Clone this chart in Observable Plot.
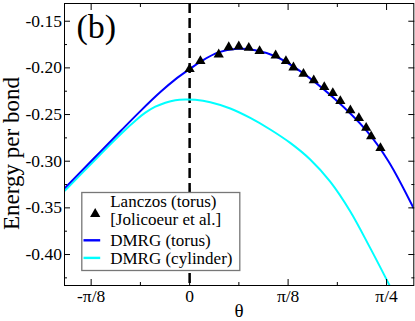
<!DOCTYPE html>
<html><head><meta charset="utf-8">
<script src="https://cdn.jsdelivr.net/npm/d3@7"></script>
<script src="https://cdn.jsdelivr.net/npm/@observablehq/plot@0.6"></script>
<style>
body{margin:0;background:#fff}
#chart{width:415px;height:321px}
#chart svg, #chart svg text{font-family:"Liberation Serif","Times New Roman",serif !important}
</style>
</head><body><div id="chart"></div>
<script>
const PI = Math.PI;
// Lanczos (torus) [Jolicoeur et al.]
const lanczosTheta  = [0, 0.043, 0.116, 0.156, 0.196, 0.236, 0.279, 0.343, 0.384, 0.414, 0.454, 0.495, 0.537, 0.571, 0.601, 0.641, 0.675, 0.704, 0.724, 0.761];
const lanczosEnergy = [-0.2013, -0.1928, -0.1856, -0.1778, -0.1770, -0.1785, -0.1820, -0.1867, -0.1928, -0.1995, -0.2064, -0.2134, -0.2206, -0.2270, -0.2356, -0.2455, -0.2538, -0.2642, -0.2734, -0.2859];
// DMRG (torus)
const torusTheta  = [-0.497, -0.3825, -0.2761, -0.1964, -0.1167, -0.057, 0, 0.0426, 0.1143, 0.1888, 0.2618, 0.3414, 0.441, 0.5737, 0.7068, 0.7928, 0.8924];
const torusEnergy = [-0.3286, -0.2971, -0.2679, -0.2463, -0.2259, -0.2123, -0.2013, -0.1935, -0.1834, -0.1796, -0.1810, -0.1875, -0.2035, -0.2321, -0.2678, -0.3000, -0.3500];
// DMRG (cylinder)
const cylTheta  = [-0.497, -0.3825, -0.3159, -0.2562, -0.2163, -0.1765, -0.1367, -0.0968, -0.057, -0.0171, 0.0227, 0.0825, 0.1622, 0.2418, 0.3215, 0.4012, 0.4809, 0.5606, 0.6402, 0.7199, 0.7996, 0.8235];
const cylEnergy = [-0.3314, -0.3000, -0.2818, -0.2662, -0.2566, -0.2480, -0.2416, -0.2373, -0.2346, -0.2339, -0.2342, -0.2368, -0.2435, -0.2536, -0.2660, -0.2804, -0.2982, -0.3219, -0.3536, -0.3929, -0.4342, -0.4468];

const xTickValues = [-PI/8, 0, PI/8, PI/4];
const xTickLabels = ["-\u03c0/8", "0", "\u03c0/8", "\u03c0/4"];
const xMinorTicks = [-PI/16, PI/16, 3*PI/16];
const yTickValues = [-0.40, -0.35, -0.30, -0.25, -0.20, -0.15];
const yMinorTicks = [-0.425, -0.375, -0.325, -0.275, -0.225, -0.175];
const legendLabels = ["Lanczos (torus)", "[Jolicoeur et al.]", "DMRG (torus)", "DMRG (cylinder)"];
const panelLabel = "(b)";
const xLabel = "\u03b8";
const yLabel = "Energy per bond";

const lanczos = lanczosTheta.map((t, i) => ({t, e: lanczosEnergy[i]}));
const torus = torusTheta.map((t, i) => ({t, e: torusEnergy[i]}));
const cyl = cylTheta.map((t, i) => ({t, e: cylEnergy[i]}));

const BLUE = "#0000ff", CYAN = "#00ffff";

// inward tick helpers
const ticksY = (values, size) => [
  Plot.axisY({anchor: "left", ticks: values, tickSize: size, dx: size, fill: "none", label: null, stroke: "black"}),
  Plot.axisY({anchor: "right", ticks: values, tickSize: size, dx: -size, fill: "none", label: null, stroke: "black"})
];
const ticksX = (values, size) => [
  Plot.axisX({anchor: "bottom", ticks: values, tickSize: size, dy: -size, fill: "none", label: null, stroke: "black"}),
  Plot.axisX({anchor: "top", ticks: values, tickSize: size, dy: size, fill: "none", label: null, stroke: "black"})
];

// legend layout (pixel offsets from the frame's top-left corner)
const legendTextDy = [197.8, 216, 237.5, 255.5];

const chart = Plot.plot({
  width: 415, height: 321,
  marginLeft: 64, marginRight: 1.7, marginTop: 3, marginBottom: 36,
  style: "font-family: 'Liberation Serif', 'Times New Roman', serif; background: white; color: black;",
  x: {domain: [-0.499, 0.894]},
  y: {domain: [-0.4332, -0.131]},
  marks: [
    Plot.ruleX([0], {stroke: "black", strokeWidth: 2.5, strokeDasharray: "10,5"}),
    Plot.line(cyl, {x: "t", y: "e", stroke: CYAN, strokeWidth: 2, curve: "catmull-rom", clip: true}),
    Plot.line(torus, {x: "t", y: "e", stroke: BLUE, strokeWidth: 2, curve: "catmull-rom", clip: true}),
    Plot.dot(lanczos, {x: "t", y: "e", symbol: "triangle", r: 3.8, fill: "black", stroke: "none"}),
    ...ticksY(yTickValues, 6), ...ticksY(yMinorTicks, 3),
    ...ticksX(xTickValues, 6), ...ticksX(xMinorTicks, 3),
    Plot.axisY({anchor: "left", ticks: yTickValues, tickSize: 0, tickPadding: 2.5, tickFormat: d => d.toFixed(2), fontSize: 17.5, label: null}),
    Plot.axisX({anchor: "bottom", ticks: xTickValues, tickSize: 0, tickPadding: 4, tickFormat: (d, i) => xTickLabels[i], fontSize: 17.5, label: null}),
    Plot.frame({stroke: "black", strokeWidth: 1}),
    // axis titles and panel label
    Plot.text([yLabel], {text: d => d, frameAnchor: "left", rotate: -90, dx: -52.5, dy: 9, fontSize: 23, textAnchor: "middle", lineAnchor: "middle"}),
    Plot.text([xLabel], {text: d => d, frameAnchor: "bottom", dy: 25, fontSize: 19, lineAnchor: "middle"}),
    Plot.text([panelLabel], {text: d => d, frameAnchor: "top-left", dx: 12, dy: 10, fontSize: 34, textAnchor: "start", lineAnchor: "top"}),
    // legend box
    Plot.frame({fill: "white", stroke: "#777", strokeWidth: 1.3, insetLeft: 17.3, insetTop: 189, insetRight: 174, insetBottom: 15}),
    Plot.dot([legendLabels[0]], {frameAnchor: "top-left", dx: 30.7, dy: 210.5, symbol: "triangle", r: 3.8, fill: "black", stroke: "none"}),
    Plot.frame({fill: BLUE, stroke: "none", insetLeft: 19, insetRight: 313.6, insetTop: 235.6, insetBottom: 44}),
    Plot.frame({fill: CYAN, stroke: "none", insetLeft: 19, insetRight: 313.6, insetTop: 253.2, insetBottom: 26.4}),
    ...legendLabels.map((s, i) => Plot.text([s], {text: d => d, frameAnchor: "top-left", dx: 45.7, dy: legendTextDy[i], fontSize: 17, textAnchor: "start", lineAnchor: "middle"}))
  ]
});
document.getElementById("chart").appendChild(chart);
</script>
</body></html>
